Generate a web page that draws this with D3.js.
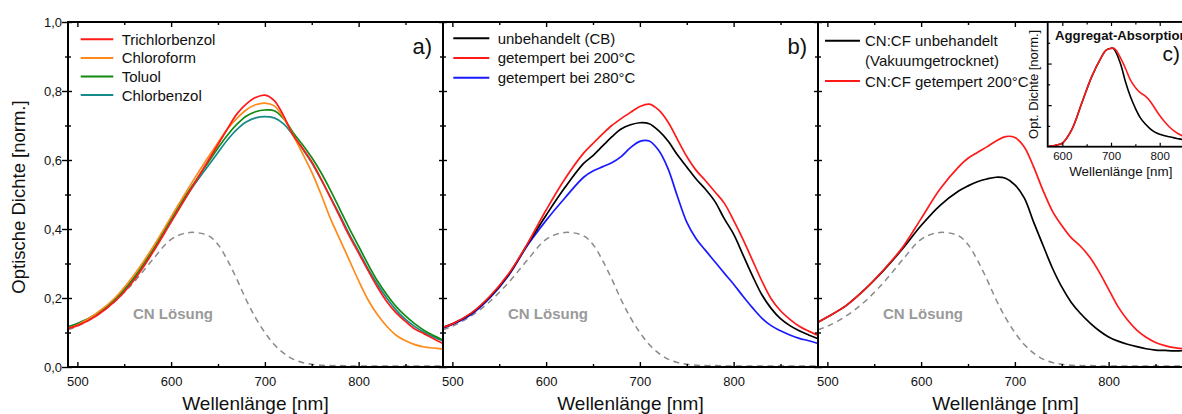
<!DOCTYPE html>
<html>
<head>
<meta charset="utf-8">
<script src="https://cdn.jsdelivr.net/npm/d3@7"></script>
<style>
  body { margin: 0; background: #fff; }
  svg { display: block; }
  text { font-family: "Liberation Sans", Arial, Helvetica, sans-serif; }
</style>
</head>
<body>
<svg id="chart" width="1182" height="414"></svg>
<script>
// Wavelength grid (nm) shared by all spectra
const wavelength = [490,500,520,540,560,580,600,620,640,650,660,670,680,690,700,710,720,730,740,750,760,770,780,790,800,810,820,830,840,850,860,870,880,890];

// a) films cast from different solvents
const trichlorbenzol = [.112,.12,.148,.19,.25,.33,.42,.51,.60,.645,.69,.733,.762,.781,.788,.772,.728,.672,.635,.595,.545,.49,.435,.38,.33,.28,.232,.19,.157,.132,.11,.096,.082,.068];
const chloroform     = [.113,.122,.155,.2,.265,.345,.435,.525,.61,.65,.69,.72,.745,.76,.765,.757,.722,.672,.62,.565,.50,.43,.37,.31,.25,.195,.152,.118,.092,.076,.065,.058,.055,.052];
const toluol         = [.116,.125,.153,.196,.258,.338,.43,.515,.595,.635,.672,.703,.727,.74,.745,.743,.72,.68,.645,.607,.563,.512,.457,.402,.35,.298,.25,.21,.175,.148,.125,.106,.091,.078];
const chlorbenzol    = [.117,.126,.153,.195,.255,.335,.425,.51,.585,.622,.658,.688,.71,.722,.726,.722,.705,.672,.633,.592,.543,.492,.44,.385,.335,.285,.24,.20,.165,.138,.117,.10,.087,.076];

// b) CB film, untreated and annealed
const cbUntreated = [.115,.125,.155,.203,.268,.355,.44,.52,.59,.613,.64,.667,.69,.702,.708,.705,.685,.655,.615,.58,.545,.515,.48,.43,.385,.325,.265,.21,.17,.14,.12,.105,.093,.082];
const cbAnneal200 = [.115,.125,.156,.205,.27,.357,.455,.545,.62,.648,.675,.70,.72,.738,.755,.762,.745,.71,.66,.61,.57,.54,.508,.475,.425,.37,.31,.25,.198,.163,.138,.118,.104,.092];
const cbAnneal280 = [.113,.123,.152,.2,.265,.352,.425,.49,.55,.568,.58,.592,.61,.636,.654,.655,.628,.575,.495,.42,.372,.338,.305,.272,.24,.205,.172,.142,.12,.105,.093,.083,.076,.068];

// c) CN:CF film, vacuum dried and annealed at 200 °C
const cncfUntreated = [.13,.145,.178,.225,.28,.342,.41,.468,.51,.525,.537,.545,.55,.547,.528,.49,.42,.353,.287,.232,.188,.155,.128,.105,.087,.075,.066,.059,.053,.049,.048,.047,.047,.046];
const cncfAnneal200 = [.13,.145,.178,.225,.282,.346,.43,.515,.58,.605,.622,.638,.655,.668,.665,.638,.58,.512,.452,.41,.375,.35,.318,.275,.225,.175,.137,.107,.086,.071,.062,.056,.053,.051];

// CN solution reference spectrum (dashed, every panel)
const cnSolution = [.108,.118,.148,.19,.245,.31,.37,.39,.38,.355,.31,.255,.195,.143,.10,.065,.04,.023,.013,.008,.005,.004,.004,.003,.003,.003,.003,.003,.003,.003,.003,.003,.003,.003];

// Inset: aggregate absorption (normalised)
const insetWavelength = [570,580,590,600,620,640,660,680,690,700,705,710,720,730,740,750,760,770,780,790,800,810,820,830,840,850,860,870];
const aggUntreated = [0,.008,.018,.035,.17,.42,.67,.86,.93,.948,.945,.91,.79,.62,.48,.37,.28,.22,.175,.14,.12,.105,.095,.085,.075,.068,.062,.058];
const aggAnneal200 = [0,.008,.018,.035,.17,.42,.67,.86,.93,.945,.95,.93,.85,.75,.64,.57,.52,.49,.44,.37,.30,.24,.19,.15,.12,.10,.09,.085];

// Axis ticks
const xMajor = [500,600,700,800];
const xMinor = [550,650,750,850];
const yMajor = [0,0.2,0.4,0.6,0.8,1.0];
const yMinor = [0.1,0.3,0.5,0.7,0.9];
const insetXMajor = [600,700,800];
const insetXMinor = [650,750,850];
const insetYMajor = [0.4,0.8];
const insetYMinor = [0.2,0.6,1.0];

const svg = d3.select("#chart");
const TOP = 22, BOTTOM = 367;
const y = d3.scaleLinear().domain([0, 1]).range([BOTTOM, TOP]);
const commaFmt = v => v.toFixed(1).replace(".", ",");
const smooth = d3.curveCatmullRom.alpha(0.5);

const panels = [
  { id: "a", x0: 68, x1: 443, tag: "a)",
    series: [
      { name: "Trichlorbenzol", values: trichlorbenzol, color: "#ff1a1a" },
      { name: "Chloroform",     values: chloroform,     color: "#ff8a1a" },
      { name: "Toluol",         values: toluol,         color: "#138a13" },
      { name: "Chlorbenzol",    values: chlorbenzol,    color: "#178a8a" }
    ],
    drawOrder: [3, 2, 1, 0],
    legend: { lx0: 12.7, lx1: 45.3, tx: 53.7, y0: 39.3, dy: 18.6, rows: null } },
  { id: "b", x0: 443, x1: 818, tag: "b)",
    series: [
      { name: "unbehandelt (CB)",      values: cbUntreated, color: "#000000" },
      { name: "getempert bei 200°C",   values: cbAnneal200, color: "#ff1a1a" },
      { name: "getempert bei 280°C",   values: cbAnneal280, color: "#1a1aff" }
    ],
    drawOrder: [2, 0, 1],
    legend: { lx0: 10.3, lx1: 46.3, tx: 54.7, y0: 38.3, dy: 19.7, rows: null } },
  { id: "c", x0: 818, x1: 1193, tag: null,
    series: [
      { name: "CN:CF unbehandelt", values: cncfUntreated, color: "#000000" },
      { name: "CN:CF getempert 200°C", values: cncfAnneal200, color: "#ff1a1a" }
    ],
    drawOrder: [0, 1],
    legend: { lx0: 7, lx1: 42, tx: 47, y0: 40.7, dy: 20.2,
      rows: [
        { text: "CN:CF unbehandelt", color: "#000000" },
        { text: "(Vakuumgetrocknet)", color: null },
        { text: "CN:CF getempert 200°C", color: "#ff1a1a" }
      ] } }
];

function styleTicks(sel, width) {
  sel.select(".domain").remove();
  sel.selectAll("line").attr("stroke", "#000").attr("stroke-width", width || 1.4);
}

const defs = svg.append("defs");

panels.forEach(p => {
  const x = d3.scaleLinear().domain([490, 890]).range([p.x0, p.x1]);
  const g = svg.append("g").attr("class", "panel-" + p.id);

  defs.append("clipPath").attr("id", "clip-" + p.id)
    .append("rect").attr("x", p.x0).attr("y", TOP).attr("width", p.x1 - p.x0).attr("height", BOTTOM - TOP);

  const line = d3.line()
    .x((d, i) => x(wavelength[i]))
    .y(d => y(d))
    .curve(smooth);

  const plot = g.append("g").attr("clip-path", `url(#clip-${p.id})`);

  // Solution reference
  plot.append("path")
    .attr("d", line(cnSolution))
    .attr("fill", "none")
    .attr("stroke", "#8a8a8a")
    .attr("stroke-width", 1.5)
    .attr("stroke-dasharray", "6,4.5");

  p.drawOrder.forEach(k => {
    const s = p.series[k];
    plot.append("path")
      .attr("d", line(s.values))
      .attr("fill", "none")
      .attr("stroke", s.color)
      .attr("stroke-width", 1.7);
  });

  g.append("text")
    .attr("x", p.x0 + 65).attr("y", 318.5)
    .attr("font-size", 15).attr("font-weight", "bold")
    .attr("fill", "#9a9a9a")
    .text("CN Lösung");

  // Bottom ticks (inward)
  g.append("g").attr("transform", `translate(0,${BOTTOM})`)
    .call(d3.axisTop(x).tickValues(xMajor).tickSize(5).tickFormat(""))
    .call(s => styleTicks(s));
  g.append("g").attr("transform", `translate(0,${BOTTOM})`)
    .call(d3.axisTop(x).tickValues(xMinor).tickSize(3).tickFormat(""))
    .call(s => styleTicks(s));
  // Top ticks (inward)
  g.append("g").attr("transform", `translate(0,${TOP})`)
    .call(d3.axisBottom(x).tickValues(xMajor).tickSize(5).tickFormat(""))
    .call(s => styleTicks(s));
  g.append("g").attr("transform", `translate(0,${TOP})`)
    .call(d3.axisBottom(x).tickValues(xMinor).tickSize(3).tickFormat(""))
    .call(s => styleTicks(s));

  // Tick labels
  const xl = g.append("g").attr("transform", `translate(0,${BOTTOM})`)
    .call(d3.axisBottom(x).tickValues(xMajor).tickSize(0).tickPadding(10).tickFormat(d3.format("d")));
  xl.select(".domain").remove();
  xl.attr("font-size", 13).attr("font-family", null);
  xl.selectAll("text").attr("fill", "#111");

  g.append("text")
    .attr("x", (p.x0 + p.x1) / 2).attr("y", 410)
    .attr("text-anchor", "middle")
    .attr("font-size", 19).attr("fill", "#111")
    .text("Wellenlänge [nm]");

  // Vertical ticks on the left edge of each panel
  const outer = p.id === "a" ? 6 : 4;
  g.append("g").attr("transform", `translate(${p.x0},0)`)
    .call(d3.axisLeft(y).tickValues(yMajor).tickSize(outer).tickFormat(""))
    .call(s => styleTicks(s));
  g.append("g").attr("transform", `translate(${p.x0},0)`)
    .call(d3.axisRight(y).tickValues(yMajor).tickSize(4).tickFormat(""))
    .call(s => styleTicks(s));
  g.append("g").attr("transform", `translate(${p.x0},0)`)
    .call(d3.axisLeft(y).tickValues(yMinor).tickSize(3).tickFormat(""))
    .call(s => styleTicks(s));
  g.append("g").attr("transform", `translate(${p.x0},0)`)
    .call(d3.axisRight(y).tickValues(yMinor).tickSize(3).tickFormat(""))
    .call(s => styleTicks(s));

  // Legend
  const L = p.legend;
  const rows = L.rows || p.series.map(s => ({ text: s.name, color: s.color }));
  rows.forEach((r, i) => {
    const cy = L.y0 + i * L.dy;
    if (r.color) {
      g.append("line")
        .attr("x1", p.x0 + L.lx0).attr("x2", p.x0 + L.lx1)
        .attr("y1", cy).attr("y2", cy)
        .attr("stroke", r.color).attr("stroke-width", 2);
    }
    g.append("text")
      .attr("x", p.x0 + L.tx).attr("y", cy + 5.4)
      .attr("font-size", 15).attr("fill", "#111")
      .text(r.text);
  });

  if (p.tag) {
    g.append("text")
      .attr("x", p.x1 - 11).attr("y", 54)
      .attr("text-anchor", "end")
      .attr("font-size", 22).attr("fill", "#111")
      .text(p.tag);
  }
});

// Y axis labels (panel a)
const yl = svg.append("g").attr("transform", `translate(68,0)`)
  .call(d3.axisLeft(y).tickValues(yMajor).tickSize(0).tickPadding(6).tickFormat(commaFmt));
yl.select(".domain").remove();
yl.attr("font-size", 13).attr("font-family", null);
yl.selectAll("text").attr("fill", "#111");

svg.append("text")
  .attr("transform", "translate(25,197) rotate(-90)")
  .attr("text-anchor", "middle")
  .attr("font-size", 18.5).attr("fill", "#111")
  .text("Optische Dichte [norm.]");

// Outer frame and panel separators
svg.append("rect")
  .attr("x", 68).attr("y", TOP).attr("width", 1193 - 68).attr("height", BOTTOM - TOP)
  .attr("fill", "none").attr("stroke", "#000").attr("stroke-width", 2);
[443, 818].forEach(xp => {
  svg.append("line").attr("x1", xp).attr("x2", xp).attr("y1", TOP).attr("y2", BOTTOM)
    .attr("stroke", "#000").attr("stroke-width", 2);
});

// Inset: aggregate absorption
const IN = { x0: 1047.7, x1: 1193.8, y0: TOP, y1: 146.7 };
const ix = d3.scaleLinear().domain([570, 870]).range([IN.x0, IN.x1]);
const iy = d3.scaleLinear().domain([0, 1.2]).range([IN.y1, IN.y0]);
const inset = svg.append("g").attr("class", "inset");

inset.append("rect")
  .attr("x", IN.x0).attr("y", IN.y0).attr("width", IN.x1 - IN.x0).attr("height", IN.y1 - IN.y0)
  .attr("fill", "#fff");

defs.append("clipPath").attr("id", "clip-inset")
  .append("rect").attr("x", IN.x0).attr("y", IN.y0).attr("width", IN.x1 - IN.x0).attr("height", IN.y1 - IN.y0);

const iline = d3.line()
  .x((d, i) => ix(insetWavelength[i]))
  .y(d => iy(d))
  .curve(smooth);

const iplot = inset.append("g").attr("clip-path", "url(#clip-inset)");
iplot.append("path").attr("d", iline(aggUntreated))
  .attr("fill", "none").attr("stroke", "#000").attr("stroke-width", 1.6);
iplot.append("path").attr("d", iline(aggAnneal200))
  .attr("fill", "none").attr("stroke", "#ff1a1a").attr("stroke-width", 1.6);

inset.append("g").attr("transform", `translate(0,${IN.y1})`)
  .call(d3.axisTop(ix).tickValues(insetXMajor).tickSize(4).tickFormat(""))
  .call(s => styleTicks(s, 1.2));
inset.append("g").attr("transform", `translate(0,${IN.y1})`)
  .call(d3.axisTop(ix).tickValues(insetXMinor).tickSize(2.5).tickFormat(""))
  .call(s => styleTicks(s, 1.2));
inset.append("g").attr("transform", `translate(0,${IN.y0})`)
  .call(d3.axisBottom(ix).tickValues(insetXMajor).tickSize(4).tickFormat(""))
  .call(s => styleTicks(s, 1.2));
inset.append("g").attr("transform", `translate(0,${IN.y0})`)
  .call(d3.axisBottom(ix).tickValues(insetXMinor).tickSize(2.5).tickFormat(""))
  .call(s => styleTicks(s, 1.2));
inset.append("g").attr("transform", `translate(${IN.x0},0)`)
  .call(d3.axisRight(iy).tickValues(insetYMajor).tickSize(4).tickFormat(""))
  .call(s => styleTicks(s, 1.2));
inset.append("g").attr("transform", `translate(${IN.x0},0)`)
  .call(d3.axisRight(iy).tickValues(insetYMinor).tickSize(2.5).tickFormat(""))
  .call(s => styleTicks(s, 1.2));

const ixl = inset.append("g").attr("transform", `translate(0,${IN.y1})`)
  .call(d3.axisBottom(ix).tickValues(insetXMajor).tickSize(0).tickPadding(5).tickFormat(d3.format("d")));
ixl.select(".domain").remove();
ixl.attr("font-size", 11.5).attr("font-family", null);
ixl.selectAll("text").attr("fill", "#111");

inset.append("rect")
  .attr("x", IN.x0).attr("y", IN.y0).attr("width", IN.x1 - IN.x0).attr("height", IN.y1 - IN.y0)
  .attr("fill", "none").attr("stroke", "#000").attr("stroke-width", 1.8);

inset.append("text")
  .attr("x", (IN.x0 + IN.x1) / 2).attr("y", 175.5)
  .attr("text-anchor", "middle")
  .attr("font-size", 13.4).attr("fill", "#111")
  .text("Wellenlänge [nm]");

inset.append("text")
  .attr("transform", `translate(1037.5,${(IN.y0 + IN.y1) / 2}) rotate(-90)`)
  .attr("text-anchor", "middle")
  .attr("font-size", 13).attr("fill", "#111")
  .text("Opt. Dichte [norm.]");

inset.append("text")
  .attr("x", 1055).attr("y", 39.5)
  .attr("font-size", 13.2).attr("font-weight", "bold").attr("fill", "#111")
  .text("Aggregat-Absorption");

inset.append("text")
  .attr("x", 1180).attr("y", 61)
  .attr("text-anchor", "end")
  .attr("font-size", 21).attr("fill", "#111")
  .text("c)");
</script>
</body>
</html>
